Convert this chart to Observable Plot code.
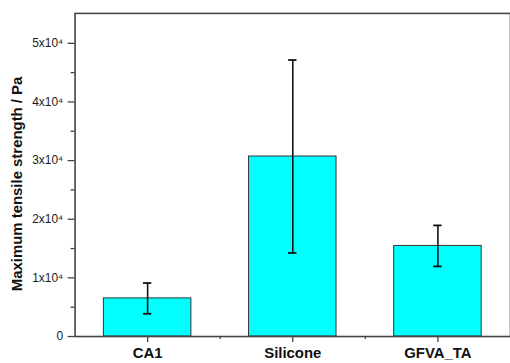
<!DOCTYPE html>
<html>
<head>
<meta charset="utf-8">
<script src="https://cdn.jsdelivr.net/npm/d3@7"></script>
<script src="https://cdn.jsdelivr.net/npm/@observablehq/plot@0.6"></script>
<style>
  html, body { margin: 0; padding: 0; background: #fff; overflow: hidden; }
</style>
</head>
<body>
<div id="chart"></div>
<script>
const categories = ["CA1", "Silicone", "GFVA_TA"];
const values = [6500, 30700, 15450];
const errors = [2620, 16450, 3500];
const yTicks = [0, 10000, 20000, 30000, 40000, 50000];
const yTickLabels = ["0", "1x10⁴", "2x10⁴", "3x10⁴", "4x10⁴", "5x10⁴"];
const yMinorTicks = [5000, 15000, 25000, 35000, 45000];
const xMinorTicks = ["CA1", "Silicone"];
const yTitle = "Maximum tensile strength / Pa";

const data = categories.map((c, i) => ({
  name: c, value: values[i], lo: values[i] - errors[i], hi: values[i] + errors[i]
}));

const W = 513, H = 363, mL = 75, mR = 0, mT = 13, mB = 25;
const step = (W - mL - mR) / 3;
const capInset = (step * 0.6 - 8) / 2;

const chart = Plot.plot({
  width: W,
  height: H,
  marginLeft: mL,
  marginRight: mR,
  marginTop: mT,
  marginBottom: mB,
  style: { fontFamily: "'Liberation Sans', Arial, sans-serif", color: "#222", background: "#fff", overflow: "visible" },
  x: { domain: categories, paddingInner: 0.4, paddingOuter: 0.2, label: null },
  y: { domain: [0, 55100], label: null },
  marks: [
    Plot.barY(data, { x: "name", y: "value", fill: "#00FFFF", stroke: "#333", strokeWidth: 1 }),
    Plot.ruleX(data, { x: "name", y1: "lo", y2: "hi", stroke: "#111", strokeWidth: 1.6 }),
    Plot.tickY(data, { x: "name", y: "hi", stroke: "#111", strokeWidth: 1.8, insetLeft: capInset, insetRight: capInset }),
    Plot.tickY(data, { x: "name", y: "lo", stroke: "#111", strokeWidth: 1.8, insetLeft: capInset, insetRight: capInset }),
    Plot.frame({ stroke: "#444", strokeWidth: 1.6 }),
    Plot.axisY({ ticks: yTicks, tickSize: 7, tickPadding: 5, tickFormat: (d) => yTickLabels[yTicks.indexOf(d)], fontSize: 12, fill: "#1a1a1a", stroke: "#444", strokeWidth: 1.3, label: null }),
    Plot.axisY({ ticks: yMinorTicks, tickSize: 4, tickFormat: () => "", stroke: "#444", strokeWidth: 1.3, label: null }),
    Plot.axisX({ tickSize: 6, tickPadding: 5, fontSize: 15, fontWeight: "bold", fill: "#111", stroke: "#444", strokeWidth: 1.3, label: null }),
    Plot.axisX({ ticks: xMinorTicks, tickSize: 3, tickFormat: () => "", dx: step / 2, stroke: "#444", strokeWidth: 1.3, label: null }),
    Plot.text([yTitle], { frameAnchor: "left", dx: -58, dy: 9, rotate: -90, textAnchor: "middle", lineAnchor: "middle", fontSize: 15, fontWeight: "bold", fill: "#111" })
  ]
});
document.getElementById("chart").appendChild(chart);
</script>
</body>
</html>
